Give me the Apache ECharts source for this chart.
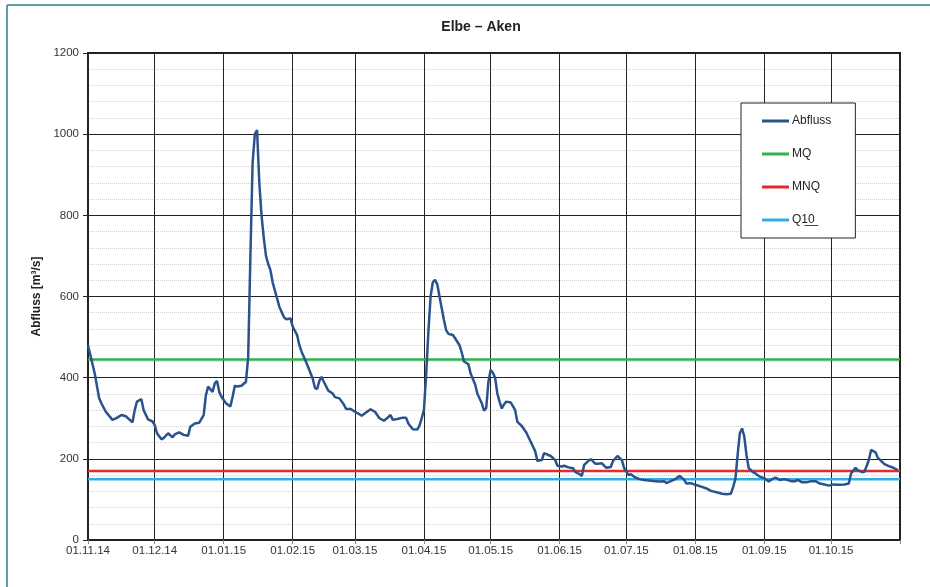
<!DOCTYPE html>
<html>
<head>
<meta charset="utf-8">
<script src="https://cdn.jsdelivr.net/npm/echarts@6/dist/echarts.min.js"></script>
<style>
html,body{margin:0;padding:0;background:#fff;}
#chart{width:930px;height:587px;}
</style>
</head>
<body>
<div id="chart"></div>
<script>
// ---- data ----
const startDate = [2014, 10, 1];   // 01.11.14 (month is 0-based)
const endDate = [2015, 10, 1];     // 01.11.15
// days since 01.11.2014
const dayOffsets = [
  0,3,5,6,8,11,13,15,17,20,21,22,24,25,27,29,30,31,33,34,36,38,39,41,43,45,46,48,50,52,53,54,56,57,58,59,60,62,64,65,66,67,69,
  71,72,73,74,75,76,77,78,79,80,81,82,83,85,86,88,89,91,92,94,95,96,98,101,102,103,104,105,106,108,110,111,113,115,116,118,120,
  122,123,125,127,129,131,133,134,136,137,139,141,143,144,146,148,149,150,151,152,153,154,155,156,157,158,159,160,161,162,164,165,
  167,168,169,171,172,174,175,177,178,179,180,181,182,183,184,185,186,187,188,190,191,192,193,195,197,199,201,202,204,205,208,210,
  211,213,214,216,218,219,221,222,223,225,226,228,229,231,233,235,236,238,240,241,243,244,246,248,250,253,255,257,259,260,262,264,
  266,268,269,271,273,276,278,280,283,285,287,289,290,291,292,293,294,295,296,297,299,300,302,304,306,307,309,311,313,316,318,319,
  321,323,325,327,329,331,333,335,337,340,342,343,345,346,348,349,351,352,354,355,358,360,362,364
];
const discharge = [
  480,411,350,337,316,296,301,308,305,290,320,341,347,320,297,292,283,263,248,251,263,253,260,265,259,257,279,287,289,308,357,378,365,386,392,365,353,337,329,353,380,378,380,
  390,450,700,930,1000,1010,880,800,745,700,680,665,635,595,575,550,544,546,526,505,480,464,439,398,375,372,392,402,390,368,361,352,349,334,323,323,316,
  310,306,314,322,316,300,294,298,308,296,298,301,301,287,273,272,282,300,320,407,513,600,635,641,630,600,571,542,517,508,505,497,
  480,462,440,433,410,384,361,337,319,325,390,419,412,400,361,341,324,334,341,339,330,320,291,281,265,242,219,195,197,214,207,197,
  183,181,183,179,177,168,162,158,185,195,199,188,188,189,178,180,195,207,197,177,160,162,154,150,148,146,145,144,145,140,145,150,
  158,148,139,140,136,131,127,121,117,114,113,114,131,150,209,263,275,255,209,177,167,164,156,152,144,148,154,148,150,145,145,148,
  142,142,145,145,139,137,134,137,136,137,139,164,178,172,167,168,197,222,216,203,187,182,178,172
];
const refNames = ['MQ', 'MNQ', 'Q1\u03320\u0332'];
const refValues = [445, 170, 150];
const refColors = ['#2fb24c', '#e8292b', '#2eaee3'];
const seriesName = 'Abfluss';
const titleText = 'Elbe \u2013 Aken';
const yAxisName = 'Abfluss [m\u00b3/s]';

// ---- build ----
const DAY = 86400000;
const t0 = new Date(startDate[0], startDate[1], startDate[2]).getTime();
const t1 = new Date(endDate[0], endDate[1], endDate[2]).getTime();
const mainData = dayOffsets.map((d, i) => {
  const dt = new Date(startDate[0], startDate[1], startDate[2] + d);
  return [dt.getTime(), discharge[i]];
});
function pad(n) { return (n < 10 ? '0' : '') + n; }
function fmtDate(v) {
  if (v >= t1 - DAY) return '';
  const d = new Date(v);
  return pad(d.getDate()) + '.' + pad(d.getMonth() + 1) + '.' + pad(d.getFullYear() % 100);
}

const series = [{
  name: seriesName,
  type: 'line',
  data: mainData,
  showSymbol: false,
  smooth: false,
  lineStyle: { color: '#2a528c', width: 2.5 },
  itemStyle: { color: '#2a528c' },
  z: 5
}];
refNames.forEach((n, i) => {
  series.push({
    name: n,
    type: 'line',
    data: [[t0, refValues[i]], [t1, refValues[i]]],
    showSymbol: false,
    lineStyle: { color: refColors[i], width: 2.5 },
    itemStyle: { color: refColors[i] },
    z: 4
  });
});

const chart = echarts.init(document.getElementById('chart'), null, { renderer: 'canvas' });
chart.setOption({
  backgroundColor: '#ffffff',
  animation: false,
  textStyle: { fontFamily: 'Liberation Sans, Arial, sans-serif' },
  title: {
    text: titleText,
    left: 476, top: 15,
    textAlign: 'center',
    textStyle: { fontSize: 14, fontWeight: 'bold', color: '#222', fontFamily: 'Liberation Sans, Arial, sans-serif' }
  },
  graphic: [
    { type: 'line', shape: { x1: 7, y1: 5, x2: 930, y2: 5 }, style: { stroke: '#5b9fa8', lineWidth: 2 } },
    { type: 'line', shape: { x1: 7, y1: 5, x2: 7, y2: 587 }, style: { stroke: '#5b9fa8', lineWidth: 2 } }
  ],
  legend: {
    orient: 'vertical',
    left: 741, top: 103,
    padding: [12, 24, 12, 21],
    itemGap: 21,
    itemWidth: 27, itemHeight: 3,
    icon: 'rect',
    backgroundColor: '#ffffff',
    borderColor: '#222',
    borderWidth: 1,
    textStyle: { fontSize: 12, color: '#222', padding: [0, 0, 0, -2] },
    data: [seriesName].concat(refNames)
  },
  grid: {
    left: 88, right: 30, top: 53, bottom: 47,
    show: true, borderColor: '#222', borderWidth: 2, backgroundColor: 'transparent'
  },
  xAxis: {
    type: 'time',
    min: t0, max: t1,
    splitNumber: 12,
    axisLine: { lineStyle: { color: '#222', width: 2 } },
    axisTick: { show: true, length: 4, lineStyle: { color: '#888' } },
    axisLabel: {
      formatter: fmtDate,
      color: '#333', fontSize: 11.5, margin: 5,
      hideOverlap: false
    },
    splitLine: { show: true, lineStyle: { color: '#222', width: 1 } }
  },
  yAxis: {
    type: 'value',
    min: 0, max: 1200, interval: 200,
    name: yAxisName,
    nameLocation: 'middle',
    nameGap: 40,
    nameTextStyle: { fontSize: 12, fontWeight: 'bold', color: '#222' },
    axisLine: { show: true, lineStyle: { color: '#222', width: 2 } },
    axisTick: { show: true, length: 5, lineStyle: { color: '#222' } },
    axisLabel: { color: '#333', fontSize: 11.5, margin: 9, formatter: function (v) { return String(v); } },
    splitLine: { show: true, lineStyle: { color: '#222', width: 1 } },
    minorTick: { show: false, splitNumber: 5 },
    minorSplitLine: { show: true, lineStyle: { color: '#d0d0d0', type: 'dotted', width: 1 } }
  },
  series: series
});
</script>
</body>
</html>
